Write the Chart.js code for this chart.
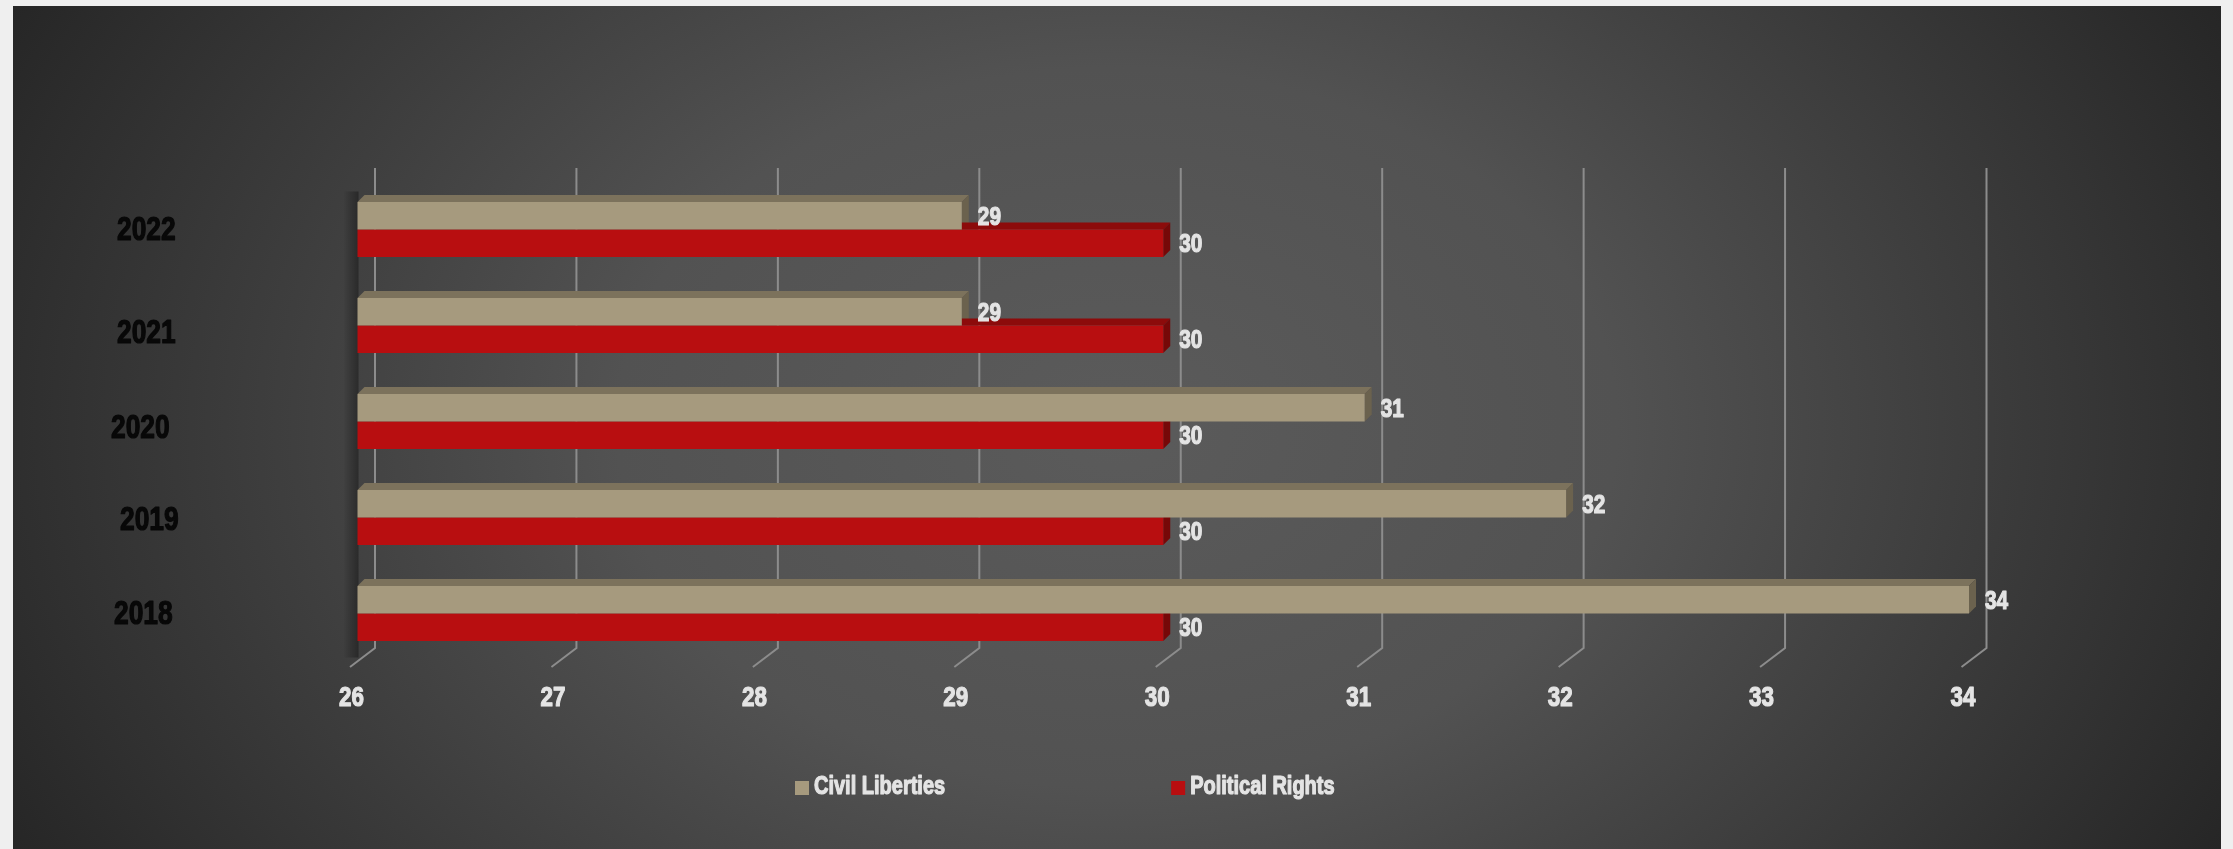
<!DOCTYPE html>
<html lang="en">
  <head>
    <meta charset="UTF-8" />
    <title>Civil Liberties / Political Rights</title>
    <script src="https://cdn.jsdelivr.net/npm/chart.js@4.4.1/dist/chart.umd.min.js"></script>
    <style>
      body { margin: 0; background: #efefef; overflow: hidden; }
      #panel {
        position: absolute; left: 13px; top: 6px; width: 2208px; height: 843px;
        background: radial-gradient(ellipse 1250px 900px at 50% 50%, #5b5b5b 0%, #525252 40%, #262626 100%);
      }
      #wrap { position: absolute; left: 0; top: 0; width: 2233px; height: 849px; }
    </style>
  </head>
  <body>
    <div id="panel"></div>
    <div id="wrap"><canvas id="myChart"></canvas></div>

    <script>
      // data
      const years = ["2022", "2021", "2020", "2019", "2018"];
      const civilLiberties = [29, 29, 31, 32, 34];
      const politicalRights = [30, 30, 30, 30, 30];
      const xMin = 26, xMax = 34;

      // the year labels sit a little unevenly in the original (3d placement)
      const yearNudgeX = [0, 0, -6, 3, -3];
      const yearNudgeY = [1.5, 8, 7, 3.5, 1.5];

      const FONT = "'Liberation Sans', Arial, sans-serif";
      const SQUEEZE = 0.8; // the original uses a narrow heavy face
      const tan = "#a69a7e", red = "#b80e10";
      const faces = {
        "#a69a7e": { top: "#7c725c", side: "#6b624e" },
        "#b80e10": { top: "#8c0b0b", side: "#760808" }
      };
      const depth = 7;

      function narrowText(ctx, text, x, y, size, color, align) {
        ctx.save();
        ctx.font = "bold " + size + "px " + FONT;
        ctx.fillStyle = color;
        ctx.strokeStyle = color;
        ctx.lineWidth = 1.2;
        ctx.lineJoin = "round";
        ctx.textAlign = align;
        ctx.textBaseline = "middle";
        ctx.translate(x, y);
        ctx.scale(SQUEEZE, 1);
        ctx.fillText(text, 0, 0);
        ctx.strokeText(text, 0, 0);
        ctx.restore();
      }

      function narrowWidth(ctx, text, size) {
        ctx.save();
        ctx.font = "bold " + size + "px " + FONT;
        const w = ctx.measureText(text).width * SQUEEZE;
        ctx.restore();
        return w;
      }

      // back wall grid lines with the little floor tick, plus bar top/side faces
      const depthPlugin = {
        id: "depth3d",
        beforeDatasetsDraw(chart) {
          const ctx = chart.ctx, xs = chart.scales.x, area = chart.chartArea;
          ctx.save();
          ctx.strokeStyle = "#8c8c8c";
          ctx.lineWidth = 2;
          for (let v = xMin; v <= xMax; v++) {
            const px = xs.getPixelForValue(v);
            ctx.beginPath();
            ctx.moveTo(px + 17.5, area.top - 13.5);
            ctx.lineTo(px + 17.5, area.bottom - 13.5);
            ctx.lineTo(px - 7.5, area.bottom + 5.5);
            ctx.stroke();
          }
          // soft dark shade on the left wall
          const g = ctx.createLinearGradient(area.left - 14, 0, area.left + 1, 0);
          g.addColorStop(0, "rgba(0,0,0,0)");
          g.addColorStop(1, "rgba(0,0,0,0.35)");
          ctx.fillStyle = g;
          ctx.fillRect(area.left - 14, area.top + 10, 15, area.bottom - area.top - 14);

          chart.data.datasets.forEach((ds, di) => {
            const f = faces[ds.backgroundColor];
            chart.getDatasetMeta(di).data.forEach(bar => {
              const x0 = Math.max(bar.base, area.left), x1 = bar.x;
              const top = bar.y - bar.height / 2, bot = bar.y + bar.height / 2;
              ctx.fillStyle = f.top;
              ctx.beginPath();
              ctx.moveTo(x0, top);
              ctx.lineTo(x0 + depth, top - depth);
              ctx.lineTo(x1 + depth, top - depth);
              ctx.lineTo(x1, top);
              ctx.closePath();
              ctx.fill();
              ctx.fillStyle = f.side;
              ctx.beginPath();
              ctx.moveTo(x1, top);
              ctx.lineTo(x1 + depth, top - depth);
              ctx.lineTo(x1 + depth, bot - depth);
              ctx.lineTo(x1, bot);
              ctx.closePath();
              ctx.fill();
            });
          });
          ctx.restore();
        }
      };

      // tick labels, value labels and legend, all in the narrow look
      const textPlugin = {
        id: "texts",
        afterDraw(chart) {
          const ctx = chart.ctx, xs = chart.scales.x, ys = chart.scales.y, area = chart.chartArea;

          xs.ticks.forEach(t => {
            narrowText(ctx, String(t.value), xs.getPixelForValue(t.value) - 6, area.bottom + 37, 28, "#e4e4e4", "center");
          });
          chart.data.labels.forEach((lab, i) => {
            narrowText(ctx, lab, 117 + yearNudgeX[i], ys.getPixelForTick(i) + yearNudgeY[i], 33, "#080808", "left");
          });

          chart.data.datasets.forEach((ds, di) => {
            chart.getDatasetMeta(di).data.forEach((bar, i) => {
              narrowText(ctx, String(ds.data[i]), bar.x + 16, bar.y + 2, 26, "#e4e4e4", "left");
            });
          });

          let x = 795;
          const y = 787;
          chart.data.datasets.forEach(ds => {
            ctx.fillStyle = ds.backgroundColor;
            ctx.fillRect(x, y - 6, 14, 14);
            narrowText(ctx, ds.label, x + 19, y, 25, "#e4e4e4", "left");
            x += 19 + narrowWidth(ctx, ds.label, 25) + 226;
          });
        }
      };

      new Chart(document.getElementById("myChart"), {
        type: "bar",
        data: {
          labels: years,
          datasets: [
            { label: "Civil Liberties", data: civilLiberties, backgroundColor: tan },
            { label: "Political Rights", data: politicalRights, backgroundColor: red }
          ]
        },
        options: {
          indexAxis: "y",
          responsive: true,
          maintainAspectRatio: false,
          animation: false,
          layout: { padding: { left: 117, right: 264, top: 181.5, bottom: 0 } },
          datasets: { bar: { categoryPercentage: 0.573, barPercentage: 1 } },
          scales: {
            x: {
              min: xMin,
              max: xMax,
              grid: { display: false },
              border: { display: false },
              ticks: { stepSize: 1, display: false },
              afterFit(scale) { scale.height = 849 - 661.5; }
            },
            y: {
              grid: { display: false },
              border: { display: false },
              ticks: { display: false },
              afterFit(scale) { scale.width = 357.5 - 117; }
            }
          },
          plugins: {
            legend: { display: false },
            tooltip: { enabled: false }
          }
        },
        plugins: [depthPlugin, textPlugin]
      });
    </script>
  </body>
</html>
